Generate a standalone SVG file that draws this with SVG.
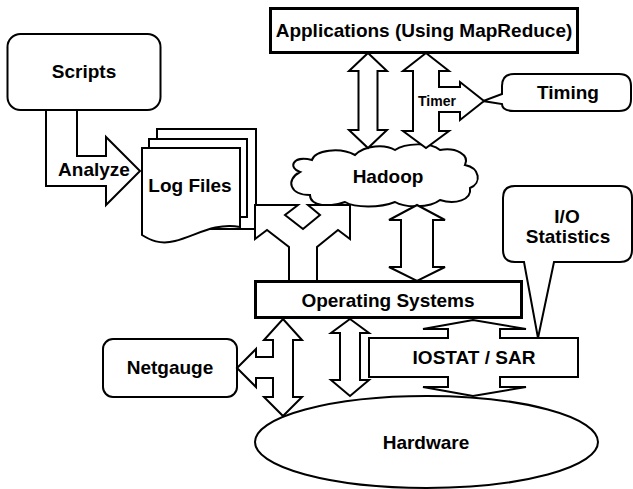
<svg xmlns="http://www.w3.org/2000/svg" width="633" height="489" viewBox="0 0 633 489">
<style>
.s{fill:#fff;stroke:#000;stroke-width:2;stroke-linejoin:miter}
.t{fill:#fff;stroke:#000;stroke-width:3}
text{font-family:"Liberation Sans",Arial,sans-serif;font-weight:bold;font-size:19px;fill:#000;text-anchor:middle}
.sm{font-size:14px}
</style>
<rect width="633" height="489" fill="#fff"/>
<g id="applications"><rect class="t" x="270.5" y="8.5" width="307" height="44"/><text x="424" y="37">Applications (Using MapReduce)</text></g>
<g id="scripts"><rect class="s" x="7.5" y="34" width="153" height="76" rx="13"/><text x="84" y="78">Scripts</text></g>
<g id="logfiles">
<rect class="s" x="157" y="129" width="99" height="100"/>
<rect class="s" x="149" y="139" width="98" height="78"/>
<path class="s" d="M142,148 L240,148 L240,227 C215,222 195,236 175,241 C160,245 150,240 142,235 Z"/>
<text x="190" y="192">Log Files</text></g>
<g id="timing"><path class="s" d="M514,74 L619,74 Q631,74 631,86 L631,99 Q631,111 619,111 L514,111 Q502,111 502,104 L483,101 L502,94 L502,86 Q502,74 514,74 Z"/><text x="568" y="99">Timing</text></g>
<g id="hadoop"><path class="s" d="M300,172 C288,168 292,155 312,160 C315,150 340,147 355,155 C365,145 385,144 395,150 C405,143 430,142 440,150 C456,147 470,155 465,165 C480,168 482,183 470,188 C472,200 455,205 440,200 C430,208 405,208 395,202 C380,208 355,208 345,202 C330,208 310,206 310,195 C290,195 285,180 300,172 Z"/><text x="388" y="183">Hadoop</text></g>
<g id="iostatistics"><path class="s" d="M515,186 L620,186 Q632,186 632,198 L632,250 Q632,262 620,262 L554,262 L538,338 L524,262 L515,262 Q503,262 503,250 L503,198 Q503,186 515,186 Z"/><text x="567" y="223">I/O</text><text x="568" y="243">Statistics</text></g>
<g id="os"><rect class="t" x="255.5" y="281.5" width="266" height="36"/><text x="388" y="307">Operating Systems</text></g>
<g id="hardware"><ellipse class="s" cx="426.5" cy="442" rx="171.5" ry="46"/><text x="426" y="449">Hardware</text></g>
<g id="netgauge"><rect class="s" x="103" y="339" width="134" height="58" rx="10"/><text x="170" y="374">Netgauge</text></g>
<g id="iostat"><path class="s" d="M369,338 L448,338 L448,329 L423,329 L473,320 L526,329 L500,329 L500,338 L578,338 L578,377 L500,377 L500,387 L526,387 L473,396 L423,387 L448,387 L448,377 L369,377 Z"/><text x="474" y="364">IOSTAT / SAR</text></g>
<g id="connectors">
<path class="s" d="M46,111 L46,186 L106,186 L106,205 L140,171 L106,137 L106,156 L77,156 L77,111"/>
<text x="94" y="176">Analyze</text>
<path class="s" d="M368,53 L387,71 L377.5,71 L377.5,130 L387,130 L368,148 L349,130 L358.5,130 L358.5,71 L349,71 Z"/>
<path class="s" d="M426,53 L449,71 L439,71 L439,87 L460,87 L460,82 L484,101 L460,120 L460,112 L439,112 L439,131 L449,131 L426,148 L403,131 L413,131 L413,71 L403,71 Z"/>
<text class="sm" x="437" y="106">Timer</text>
<path class="s" d="M289,280 L289,247 L267,230 L255,239 L255,205 L298,205 L285,215 L303,229 L320,215 L308,205 L350,205 L350,239 L338,230 L317,247 L317,280"/>
<path class="s" d="M417,205 L445,220 L433,220 L433,267 L445,267 L417,281 L389,267 L401,267 L401,220 L389,220 Z"/>
<path class="s" d="M283,319 L302,340 L293,340 L293,397 L302,397 L283,416 L264,397 L273,397 L273,378 L256,378 L256,387 L237,368 L256,349 L256,357 L273,357 L273,340 L264,340 Z"/>
<path class="s" d="M350,319 L369,333 L360,333 L360,380 L369,380 L350,396 L331,380 L340,380 L340,333 L331,333 Z"/>
</g>
</svg>
